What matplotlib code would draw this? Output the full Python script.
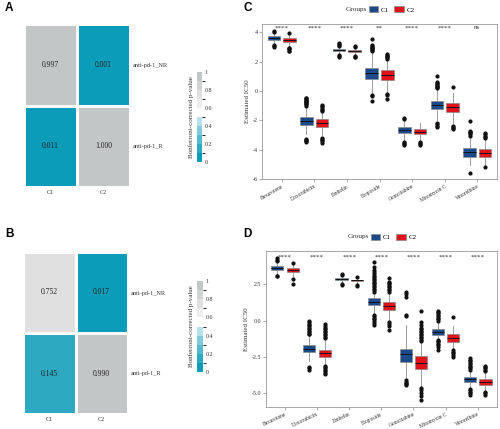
import matplotlib
matplotlib.use('Agg')
import matplotlib.pyplot as plt
import numpy as np
from matplotlib.colors import ListedColormap, BoundaryNorm
from matplotlib.cm import ScalarMappable
from matplotlib.patches import Patch

SERIF = 'Liberation Serif'
SANS = 'Liberation Sans'

# ---------------- heatmap data ----------------
heat_rows = ['anti-pd-1_NR', 'anti-pd-1_R']
heat_cols = ['C1', 'C2']
pA = [[0.997, 0.001], [0.011, 1.000]]
pB = [[0.752, 0.017], [0.145, 0.990]]
cbar_bounds = [0, 0.1, 0.2, 0.3, 0.4, 0.5, 0.6, 0.7, 0.8, 0.9, 1.0]
cbar_colors = ['#0A9CB8', '#2EA9C2', '#56B9CD', '#83CADA', '#B6E1EA',
               '#FFFFFF', '#EEEEEE', '#E0E0E0', '#D2D4D4', '#C2C6C7']
cbar_ticks = [0, 0.2, 0.4, 0.6, 0.8, 1]
cbar_ticklabels = ['0', '0.2', '0.4', '0.6', '0.8', '1']

# ---------------- boxplot data ----------------
drugs = ['Bexarotene', 'Doxorubicin', 'Embelin', 'Etoposide',
         'Gemcitabine', 'Mitomycin C', 'Vinorelbine']
groups = ['C1', 'C2']
group_colors = ['#1A4A8A', '#E0121B']

sig_C = ['****', '****', '****', '**', '****', '****', 'ns']
sig_D = ['****', '****', '****', '****', '****', '****', '****']

# Panel C
C_c1_q1 = [3.46, -2.31, 2.72, 0.80, -2.87, -1.24, -4.46]
C_c1_med = [3.60, -2.05, 2.80, 1.20, -2.65, -0.95, -4.15]
C_c1_q3 = [3.75, -1.78, 2.85, 1.57, -2.46, -0.65, -3.90]
C_c1_lo = [3.20, -2.90, 2.55, -0.20, -3.30, -2.00, -5.00]
C_c1_hi = [3.95, -1.10, 3.00, 2.60, -2.00, 0.10, -3.20]
C_c1_out = [[4.10, 4.00, 3.05, 3.00, 3.10],
            [-1.00, -0.90, -0.85, -0.80, -0.75, -0.70, -0.65, -0.60, -0.55, -0.50,
             -0.45, -3.25, -3.30, -3.35, -3.40, -3.45],
            [3.25, 3.20, 3.10, 3.05, 2.45, 2.40, 2.35],
            [2.70, 2.80, 2.85, 2.90, 2.95, 3.00, 3.05, 3.10, 3.55, -0.30, -0.35, -0.70],
            [-1.85, -1.90, -3.45, -3.55, -3.60, -3.70],
            [0.20, 0.25, 0.30, 0.35, 0.40, 0.50, 0.55, 0.60, 1.00,
             -2.15, -2.25, -2.35, -2.45],
            [-2.05, -2.70, -2.75, -2.80, -2.85, -2.95, -3.05, -5.55]]
C_c2_q1 = [3.32, -2.42, 2.68, 0.75, -2.92, -1.42, -4.46]
C_c2_med = [3.45, -2.15, 2.73, 1.08, -2.75, -1.10, -4.20]
C_c2_q3 = [3.58, -1.92, 2.78, 1.41, -2.58, -0.83, -3.96]
C_c2_lo = [3.00, -3.00, 2.50, -0.10, -3.30, -2.20, -5.00]
C_c2_hi = [3.85, -1.40, 2.92, 2.10, -2.20, -0.10, -3.30]
C_c2_out = [[3.95, 2.95, 2.90, 2.85, 2.75, 2.70],
            [-1.35, -1.30, -1.20, -1.10, -1.00, -0.95,
             -3.20, -3.25, -3.30, -3.40, -3.50],
            [3.05, 2.98, 2.40, 2.35, 2.30],
            [2.20, 2.30, 2.35, 2.40, 2.45, 2.50, -0.20, -0.25, -0.55],
            [-3.45, -3.50, -3.60, -3.70],
            [0.25, -2.37, -2.45, -2.52, -2.60],
            [-2.85, -2.95, -3.05, -3.15, -3.20, -5.15]]

# Panel D
D_c1_q1 = [3.52, -2.19, 2.80, 1.08, -2.87, -0.99, -4.23]
D_c1_med = [3.65, -1.95, 2.86, 1.30, -2.30, -0.80, -4.05]
D_c1_q3 = [3.78, -1.68, 2.92, 1.59, -1.98, -0.60, -3.91]
D_c1_lo = [3.20, -2.80, 2.60, 0.50, -4.00, -1.20, -4.60]
D_c1_hi = [4.10, -1.05, 3.10, 1.95, -0.30, -0.15, -3.50]
D_c1_out = [[4.30, 4.20, 4.15, 3.10, 3.05],
            [-0.95, -0.90, -0.80, -0.70, -0.60, -0.50, -0.40, -0.30, -0.20, -0.10,
             0.00, -3.20, -3.30, -3.40],
            [3.20, 3.15, 2.50, 2.47],
            [2.00, 2.10, 2.20, 2.30, 2.40, 2.50, 2.60, 2.70, 2.80, 2.90, 3.00,
             3.10, 3.20, 3.35, 3.50, 3.70, 4.03, 0.40, 0.30, 0.20, 0.10, 0.00,
             -0.15, -0.30],
            [2.00, 1.85, 1.65, 0.40, 0.30, -4.10, -4.20, -4.30, -4.40, -4.45],
            [0.00, 0.10, 0.20, 0.30, 0.40, 0.50, 0.60, 0.69,
             -1.30, -1.40, -1.50, -1.60, -1.70, -1.80, -2.00],
            [-2.60, -2.70, -2.80, -2.90, -3.00, -3.10, -3.20, -3.30, -3.40,
             -4.70, -4.80, -4.90, -5.00, -5.13]]
D_c2_q1 = [3.38, -2.49, 2.74, 0.72, -3.34, -1.45, -4.44]
D_c2_med = [3.50, -2.25, 2.79, 0.98, -2.90, -1.20, -4.25]
D_c2_q3 = [3.62, -2.02, 2.84, 1.27, -2.46, -0.92, -4.05]
D_c2_lo = [3.05, -3.00, 2.55, 0.00, -4.50, -1.90, -4.80]
D_c2_hi = [3.90, -1.30, 2.95, 1.90, -1.50, -0.40, -3.60]
D_c2_out = [[4.00, 2.85, 2.55],
            [-1.20, -1.10, -1.00, -0.90, -0.80, -0.70, -0.60, -0.50, -0.40, -0.25,
             -3.10, -3.20, -3.30, -3.40, -3.50, -3.60, -3.70],
            [3.02, 2.45, 2.42],
            [2.00, 2.10, 2.20, 2.30, 2.40, 2.50, 2.60, 2.70, 2.93,
             -0.10, -0.20, -0.40, -0.64],
            [0.69, -0.10, -0.30, -0.50, -0.60, -0.70, -0.80, -0.90, -1.00, -1.10,
             -1.20, -1.30, -1.40, -4.65, -4.80, -5.00, -5.20, -5.50],
            [0.28, -2.05, -2.15, -2.25, -2.35, -2.50],
            [-3.10, -3.20, -3.30, -3.40, -3.50, -4.90, -5.00, -5.10]]

C_yticks = [-6, -4, -2, 0, 2, 4]
C_yticklabels = ['-6', '-4', '-2', '0', '2', '4']
D_yticks = [-5.0, -2.5, 0.0, 2.5]
D_yticklabels = ['-5.0', '-2.5', '0.0', '2.5']

W, H = 500, 429
fig = plt.figure(figsize=(W / 100, H / 100), dpi=100)

cmap = ListedColormap(cbar_colors)
norm = BoundaryNorm(cbar_bounds, cmap.N)


def box_rect(x0, y0, x1, y1):
    return [x0 / W, 1 - y1 / H, (x1 - x0) / W, (y1 - y0) / H]


def heatmap(rect, cbrect, data):
    ax = fig.add_axes(rect)
    arr = np.array(data)
    ax.pcolormesh(arr, cmap=cmap, norm=norm, edgecolors='white', linewidth=1.8)
    ax.set_xlim(0, 2)
    ax.set_ylim(2, 0)
    for i in range(2):
        for j in range(2):
            ax.text(j + 0.5, i + 0.5, f'{arr[i, j]:.3f}', ha='center', va='center',
                    fontsize=5.5, family=SERIF, color='#222222')
    ax.set_xticks([0.5, 1.5])
    ax.set_xticklabels(heat_cols, family=SERIF, fontsize=4.5, color='#333333')
    ax.yaxis.tick_right()
    ax.set_yticks([0.5, 1.5])
    ax.set_yticklabels(heat_rows, family=SERIF, fontsize=4.5, color='#333333')
    ax.tick_params(length=0, pad=2)
    for s in ax.spines.values():
        s.set_visible(False)
    cax = fig.add_axes(cbrect)
    sm = ScalarMappable(norm=norm, cmap=cmap)
    cb = fig.colorbar(sm, cax=cax, boundaries=cbar_bounds, ticks=cbar_ticks)
    cb.outline.set_visible(False)
    cb.set_ticklabels(cbar_ticklabels)
    cax.tick_params(length=0, labelsize=4.3, pad=2, labelcolor='#333333')
    for t in cax.get_yticklabels():
        t.set_family(SERIF)
    cax.yaxis.set_label_position('left')
    cax.set_ylabel('Bonferroni-corrected p-value', family=SERIF, fontsize=5,
                   labelpad=2, color='#333333')


heatmap(box_rect(24, 24, 130, 187), box_rect(197, 72, 202, 162), pA)
heatmap(box_rect(23, 252, 128, 414), box_rect(197, 281, 203, 372), pB)


def boxpanel(rect, q1s, meds, q3s, los, his, outs, ylim, yticks, yticklabels,
             sig, sig_y, rot):
    ax = fig.add_axes(rect)
    pos = np.arange(1, len(drugs) + 1)
    for g, off in enumerate([-0.24, 0.24]):
        stats = []
        for k in range(len(drugs)):
            stats.append(dict(med=meds[g][k], q1=q1s[g][k], q3=q3s[g][k],
                              whislo=los[g][k], whishi=his[g][k],
                              fliers=outs[g][k]))
        ax.bxp(stats, positions=pos + off, widths=0.38, patch_artist=True,
               showcaps=False,
               boxprops=dict(facecolor=group_colors[g], edgecolor='#8a8a8a',
                             linewidth=0.5),
               medianprops=dict(color='#111111', linewidth=0.7),
               whiskerprops=dict(color='#8a8a8a', linewidth=0.6),
               flierprops=dict(marker='o', markerfacecolor='#111111',
                               markeredgecolor='#111111', markersize=2.0))
    for k, s in enumerate(sig):
        ax.text(pos[k], sig_y, s, ha='center', va='center', fontsize=5,
                family=SERIF, color='#333333')
    ax.set_xlim(0.4, 7.6)
    ax.set_ylim(*ylim)
    ax.set_xticks(pos)
    ax.set_xticklabels(drugs, rotation=rot, ha='right', rotation_mode='anchor',
                       family=SERIF, fontsize=4.0, color='#333333')
    ax.set_yticks(yticks)
    ax.set_yticklabels(yticklabels, family=SERIF, fontsize=4.3, color='#333333')
    ax.tick_params(length=2, width=0.5, color='#888888', pad=1.2)
    for s in ax.spines.values():
        s.set_color('#999999')
        s.set_linewidth(0.6)
    ax.set_ylabel('Estimated IC50', family=SERIF, fontsize=5, labelpad=2,
                  color='#333333')
    return ax


boxpanel(box_rect(262, 24, 497, 179.3),
         [C_c1_q1, C_c2_q1], [C_c1_med, C_c2_med], [C_c1_q3, C_c2_q3],
         [C_c1_lo, C_c2_lo], [C_c1_hi, C_c2_hi], [C_c1_out, C_c2_out],
         (-6.0, 4.56), C_yticks, C_yticklabels, sig_C, 4.3, 30)
boxpanel(box_rect(265.7, 251, 497, 407.3),
         [D_c1_q1, D_c2_q1], [D_c1_med, D_c2_med], [D_c1_q3, D_c2_q3],
         [D_c1_lo, D_c2_lo], [D_c1_hi, D_c2_hi], [D_c1_out, D_c2_out],
         (-5.98, 4.81), D_yticks, D_yticklabels, sig_D, 4.4, 25)

# legends
for gx, lx, ly in [(346, 369, 9.5), (348, 371, 237)]:
    fig.text(gx / W, 1 - ly / H, 'Groups', ha='left', va='center', family=SERIF,
             fontsize=5.2, color='#333333')
    handles = [Patch(facecolor=group_colors[i], edgecolor='#8a8a8a', linewidth=0.5)
               for i in range(2)]
    fig.legend(handles, groups, loc='center left',
               bbox_to_anchor=(lx / W, 1 - ly / H), ncol=2, frameon=False,
               prop=dict(family=SERIF, size=5), handlelength=1.3, handleheight=1.0,
               handletextpad=0.4, columnspacing=0.8, borderaxespad=0, borderpad=0)

# panel letters
for letter, x, y in [('A', 5, 8), ('C', 243, 8), ('B', 5, 234), ('D', 243, 234)]:
    fig.text(x / W, 1 - y / H, letter, ha='left', va='center', family=SANS,
             fontweight='bold', fontsize=8.5, color='black')

fig.savefig('out.png', dpi=100)
